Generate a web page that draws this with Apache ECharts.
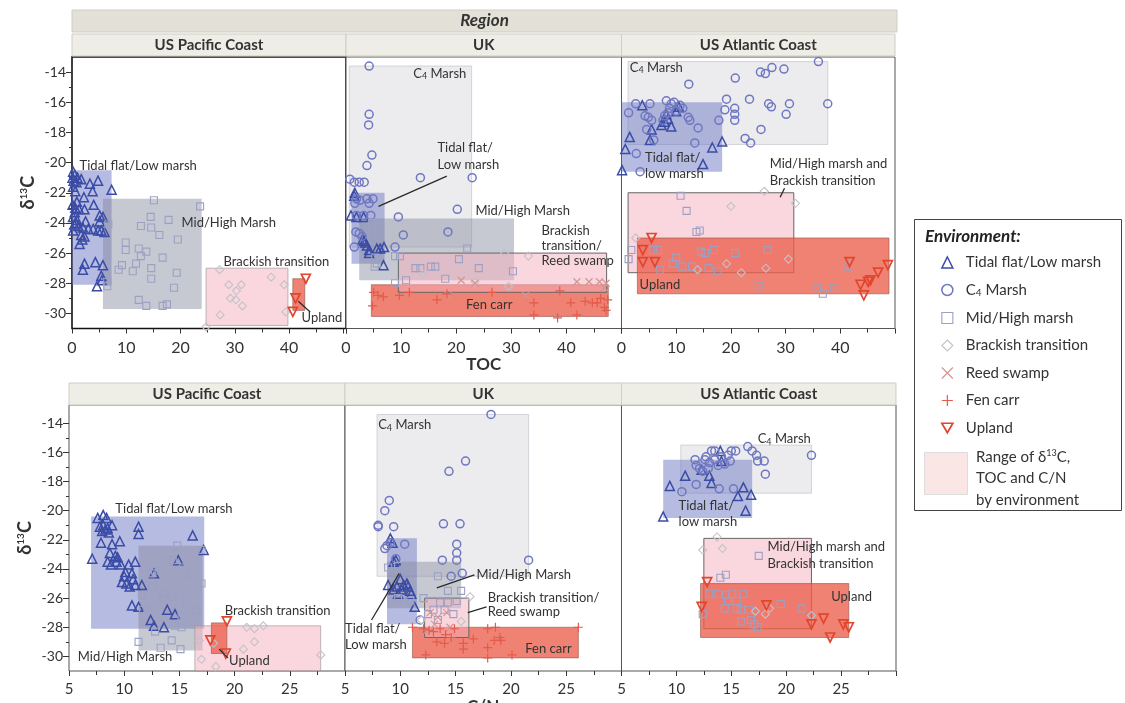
<!DOCTYPE html>
<html>
<head>
<meta charset="utf-8">
<script src="https://cdn.jsdelivr.net/npm/echarts@6/dist/echarts.min.js"></script>
<style>
html, body { margin: 0; padding: 0; background: #fff; }
#chart { width: 1125px; height: 703px; }
</style>
</head>
<body>
<div id="chart"></div>
<script>
// ---------- facets and ticks ----------
const regionNames = ['US Pacific Coast', 'UK', 'US Atlantic Coast'];
const yLabelValues = [-30, -28, -26, -24, -22, -20, -18, -16, -14];
const yMinorValues = [-29, -27, -25, -23, -21, -19, -17, -15];

// ---------- δ13C vs TOC : US Pacific Coast ----------
const tocPacTidal = [[0.2,-20.6],[0.5,-20.8],[0.1,-21.0],[0.3,-21.2],[0.8,-21.3],[1.0,-21.0],[1.7,-21.1],[0.2,-21.6],[0.6,-21.9],[3.3,-21.4],[4.8,-21.2],[7.3,-21.8],[3.8,-21.9],[2.2,-22.3],[0.9,-22.6],[0.1,-22.8],[4.0,-22.8],[0.6,-23.0],[2.3,-23.1],[1.3,-23.1],[0.5,-23.3],[0.2,-23.6],[5.1,-23.5],[5.7,-23.6],[0.9,-23.8],[2.5,-23.9],[5.1,-23.9],[0.7,-24.0],[0.4,-24.1],[1.2,-24.2],[2.0,-24.3],[3.0,-24.4],[3.9,-24.4],[0.2,-24.5],[4.8,-24.5],[5.4,-24.5],[6.0,-24.6],[1.7,-24.8],[2.3,-24.9],[1.9,-25.1],[1.4,-25.4],[2.3,-26.7],[2.0,-27.1],[4.3,-26.6],[5.7,-26.8],[5.4,-27.5],[5.5,-27.8],[4.6,-28.2]];
const tocPacMid = [[15.1,-22.5],[23.6,-22.9],[14.5,-23.6],[6.7,-24.1],[12.7,-24.2],[14.6,-24.3],[17.8,-23.8],[16.1,-24.8],[19.5,-25.1],[9.9,-25.3],[9.9,-25.8],[12.3,-25.7],[13.7,-25.9],[12.7,-26.2],[16.7,-26.3],[9.2,-26.8],[8.6,-27.1],[11.8,-26.7],[11.2,-27.2],[14.6,-27.0],[14.6,-27.7],[19.3,-27.3],[18.8,-28.3],[6.5,-27.9],[6.5,-28.2],[12.3,-29.1],[13.7,-29.5],[16.7,-29.5],[17.5,-29.4]];
const tocPacBrackish = [[27.2,-27.1],[28.9,-28.1],[31.2,-28.1],[30.3,-28.5],[29.2,-29.0],[30.2,-29.1],[31.4,-29.5],[27.3,-30.1],[36.7,-27.6],[39.1,-28.1],[39.4,-29.9],[24.7,-30.9]];
const tocPacUpland = [[43.1,-27.7],[41.2,-29.0],[40.7,-29.9]];

// ---------- δ13C vs TOC : UK ----------
const tocUkC4 = [[4.2,-13.6],[4.2,-16.8],[4.1,-17.5],[4.7,-19.5],[3.8,-20.2],[0.7,-21.1],[1.5,-21.3],[2.4,-21.3],[3.3,-21.3],[13.5,-21.0],[22.9,-21.0],[1.9,-22.4],[3.8,-22.4],[4.9,-22.4],[2.5,-22.5],[4.2,-22.7],[1.6,-22.7],[20.2,-23.1],[9.5,-23.6],[1.9,-23.5],[3.2,-23.5],[4.5,-23.5],[1.8,-24.6],[2.4,-24.7],[2.9,-24.9],[10.4,-24.8],[18.5,-24.6],[1.5,-25.6],[8.9,-25.6]];
const tocUkTidal = [[1.6,-22.0],[1.5,-22.2],[0.9,-23.5],[1.9,-23.6],[3.2,-23.6],[3.0,-25.1],[3.3,-25.2],[3.5,-25.3],[3.8,-25.5],[4.2,-25.8],[5.6,-25.7],[6.2,-25.7],[6.9,-25.6],[4.2,-26.0],[6.8,-26.8]];
const tocUkMid = [[4.7,-24.0],[5.9,-24.2],[4.7,-24.7],[22.0,-25.7],[5.3,-26.3],[5.6,-26.7],[5.2,-26.9],[8.9,-26.2],[9.8,-26.2],[12.6,-27.0],[13.5,-27.0],[15.4,-26.9],[16.2,-26.9],[20.5,-26.4],[24.1,-27.0],[30.3,-27.2],[8.9,-28.0],[10.9,-27.8],[18.0,-27.7]];
const tocUkBrackish = [[28.8,-26.0],[33.1,-26.2],[23.4,-27.9],[29.5,-28.2],[14.0,-27.4]];
const tocUkReed = [[20.9,-27.8],[23.4,-28.0],[18.5,-28.8],[32.6,-28.8],[41.9,-27.9],[44.1,-27.9],[46.0,-27.9],[47.2,-28.0],[46.9,-28.3]];
const tocUkFen = [[5.0,-28.6],[5.8,-28.8],[6.8,-28.9],[4.8,-29.5],[9.7,-28.8],[11.5,-28.6],[16.5,-29.1],[18.3,-28.7],[26.5,-28.6],[34.1,-29.3],[34.1,-30.1],[38.8,-28.5],[38.4,-30.3],[40.8,-29.3],[41.9,-30.1],[43.4,-29.2],[44.7,-29.3],[45.6,-29.3],[46.2,-29.0],[47.5,-29.1],[46.9,-29.6],[47.2,-29.8]];

// ---------- δ13C vs TOC : US Atlantic Coast ----------
const tocAtlC4 = [[36.0,-13.3],[27.5,-13.7],[29.7,-13.8],[25.4,-14.0],[26.3,-14.1],[20.8,-14.4],[12.3,-14.8],[37.7,-16.1],[23.4,-15.8],[19.2,-15.8],[30.7,-16.1],[26.9,-16.1],[27.4,-16.3],[30.1,-16.8],[20.7,-16.4],[20.7,-16.8],[20.7,-17.2],[18.9,-16.5],[17.8,-17.2],[14.0,-17.7],[12.5,-17.2],[12.2,-17.0],[10.7,-16.2],[8.2,-15.9],[9.1,-16.1],[8.8,-16.4],[8.5,-16.7],[7.9,-16.9],[7.6,-17.2],[5.2,-16.1],[2.6,-16.1],[1.3,-16.7],[4.3,-16.9],[4.9,-17.0],[5.5,-17.2],[4.6,-17.8],[5.9,-18.5],[13.4,-18.7],[22.6,-18.4],[23.6,-18.7],[25.5,-17.8],[2.7,-19.4],[3.4,-20.6],[10.0,-16.6],[9.6,-16.0],[11.2,-16.4]];
const tocAtlTidal = [[3.8,-16.2],[5.5,-17.8],[7.3,-17.5],[9.1,-17.6],[5.2,-18.5],[1.5,-18.3],[0.7,-19.1],[0.1,-20.5],[14.9,-20.1],[16.6,-19.0],[18.4,-18.6],[10.0,-16.6],[10.5,-16.3],[8.5,-17.1],[7.9,-17.3],[8.2,-16.8]];
const tocAtlMid = [[10.8,-22.2],[11.9,-23.2],[13.7,-24.6],[14.3,-24.5],[1.8,-25.8],[1.3,-26.4],[5.8,-25.8],[6.7,-25.8],[7.0,-27.1],[9.4,-26.7],[10.0,-26.3],[11.1,-26.9],[12.9,-26.9],[14.5,-25.9],[15.3,-26.0],[16.9,-25.8],[15.9,-27.0],[17.6,-27.2],[20.8,-26.0],[26.7,-25.8],[25.1,-28.2],[35.8,-28.3],[36.8,-28.7],[38.8,-28.3],[41.3,-26.9]];
const tocAtlBrackish = [[26.1,-21.9],[31.8,-22.7],[20.0,-22.9],[2.6,-25.0],[19.2,-26.7],[13.9,-27.1],[21.9,-27.3],[26.4,-27.0],[30.5,-26.4]];
const tocAtlUpland = [[5.5,-25.0],[3.9,-25.8],[3.9,-26.6],[6.1,-26.6],[41.7,-26.6],[48.7,-26.8],[46.9,-27.3],[45.5,-27.8],[45.1,-27.9],[43.7,-28.1],[44.3,-28.8]];

// ---------- δ13C vs C/N : US Pacific Coast ----------
const cnPacTidal = [[7.1,-23.3],[7.6,-20.5],[8.1,-20.3],[8.4,-20.5],[7.8,-21.1],[8.1,-21.0],[8.3,-21.3],[8.0,-21.4],[8.5,-21.2],[7.9,-22.2],[8.9,-21.0],[8.6,-21.5],[8.9,-22.3],[9.6,-22.1],[8.7,-22.9],[9.2,-23.1],[8.5,-23.5],[8.8,-23.7],[9.3,-23.5],[9.4,-23.2],[9.7,-23.7],[10.1,-24.2],[10.4,-23.7],[11.0,-23.5],[10.0,-24.5],[10.7,-24.3],[10.8,-24.7],[9.8,-24.9],[10.2,-25.0],[10.5,-25.2],[11.0,-25.1],[10.7,-26.5],[11.3,-26.6],[11.6,-25.1],[11.3,-21.1],[11.3,-21.6],[12.7,-24.3],[14.9,-23.4],[16.2,-21.7],[17.2,-22.7],[13.9,-26.8],[12.4,-27.5],[12.7,-27.9],[13.6,-28.0],[14.6,-27.1]];
const cnPacMid = [[14.8,-22.4],[14.4,-23.4],[15.3,-23.9],[15.5,-24.3],[12.8,-24.1],[12.6,-25.1],[13.6,-25.7],[13.5,-26.0],[14.4,-25.9],[15.6,-26.3],[16.5,-26.8],[17.0,-25.0],[17.0,-22.7],[11.7,-26.8],[11.6,-25.8],[12.1,-26.8],[12.8,-28.3],[14.6,-27.9],[15.2,-27.2],[15.2,-28.0],[14.3,-28.9],[15.1,-29.5],[13.3,-29.4],[11.3,-29.0],[12.5,-24.3]];
const cnPacBrackish = [[16.8,-28.9],[18.1,-29.1],[18.3,-30.7],[20.8,-29.5],[21.1,-28.0],[21.8,-29.0],[21.8,-28.1],[22.6,-27.9],[27.8,-29.9],[17.0,-30.2]];
const cnPacUpland = [[19.3,-27.6],[17.8,-28.9],[19.2,-29.8]];

// ---------- δ13C vs C/N : UK ----------
const cnUkC4 = [[18.2,-13.4],[15.9,-16.6],[14.4,-17.3],[9.0,-19.3],[8.6,-20.0],[8.0,-21.0],[8.0,-21.1],[9.4,-21.1],[13.9,-20.9],[15.4,-20.9],[15.1,-22.3],[15.1,-22.9],[15.1,-23.4],[13.8,-23.4],[14.6,-24.5],[15.6,-24.3],[21.6,-23.4],[10.4,-22.3],[8.6,-22.6],[8.8,-22.4],[9.1,-22.2],[11.8,-27.5],[9.6,-23.3]];
const cnUkTidal = [[9.1,-21.9],[9.3,-22.2],[9.4,-23.5],[9.6,-23.4],[10.0,-24.7],[9.7,-25.2],[10.1,-25.4],[10.6,-25.0],[10.7,-25.2],[11.0,-25.7],[11.3,-26.6],[9.4,-25.4],[9.8,-25.7],[8.9,-25.1],[10.3,-25.1],[10.9,-25.5]];
const cnUkMid = [[8.9,-23.9],[9.8,-23.8],[10.8,-24.1],[13.4,-24.5],[14.3,-25.5],[15.5,-25.5],[9.8,-26.0],[10.9,-26.2],[12.1,-26.0],[13.6,-26.3],[14.3,-26.3],[15.1,-26.2],[13.0,-26.8],[14.8,-27.1],[12.5,-27.1],[13.4,-27.5],[14.0,-26.8]];
const cnUkBrackish = [[16.3,-25.9],[11.9,-27.5],[15.5,-27.6]];
const cnUkReed = [[12.7,-27.0],[13.4,-27.3],[14.2,-27.0],[13.1,-27.8],[14.5,-28.0],[12.3,-28.3]];
const cnUkFen = [[11.1,-28.0],[12.1,-28.1],[12.6,-28.2],[13.0,-28.3],[13.6,-28.1],[14.1,-28.5],[13.3,-29.0],[14.0,-29.1],[14.6,-28.7],[14.9,-28.1],[15.7,-29.1],[15.7,-29.5],[16.6,-28.8],[17.9,-28.1],[18.6,-28.0],[19.0,-28.7],[19.1,-28.9],[18.5,-28.9],[17.9,-29.4],[17.9,-30.1],[20.1,-29.9],[12.3,-29.9],[26.1,-28.0]];

// ---------- δ13C vs C/N : US Atlantic Coast ----------
const cnAtlC4 = [[22.3,-16.2],[16.5,-15.6],[16.9,-15.9],[17.3,-16.2],[17.4,-16.6],[18.0,-16.6],[18.1,-17.5],[15.0,-15.9],[15.4,-15.9],[13.5,-15.9],[13.2,-15.9],[12.7,-16.3],[12.6,-16.5],[11.7,-16.5],[11.8,-16.9],[12.1,-17.1],[12.4,-17.3],[12.9,-17.1],[13.5,-16.5],[14.1,-16.3],[14.4,-16.8],[14.7,-16.2],[13.8,-16.9],[10.5,-18.7],[11.8,-18.2],[13.9,-18.5],[15.2,-18.5],[14.9,-16.6],[13.0,-16.7]];
const cnAtlTidal = [[9.4,-18.3],[10.8,-17.6],[13.2,-18.1],[13.0,-17.6],[16.1,-18.4],[15.6,-19.0],[16.8,-18.9],[16.3,-20.0],[8.8,-20.4],[14.0,-15.9],[14.1,-16.6],[12.3,-17.2]];
const cnAtlMid = [[17.5,-23.1],[14.0,-24.6],[14.5,-24.4],[13.0,-25.7],[13.8,-25.7],[14.5,-25.8],[15.1,-25.7],[14.7,-26.2],[15.5,-26.2],[16.1,-25.7],[15.5,-26.7],[15.9,-26.8],[14.4,-26.7],[16.6,-26.8],[16.8,-27.5],[17.1,-27.8],[15.9,-27.6],[12.4,-27.1],[19.5,-26.4],[21.4,-26.7],[17.4,-28.0]];
const cnAtlBrackish = [[13.7,-21.8],[14.2,-22.6],[12.4,-22.7],[18.5,-26.7],[18.1,-27.1],[22.3,-27.2],[17.2,-26.9]];
const cnAtlUpland = [[12.8,-24.9],[12.3,-26.6],[18.2,-26.5],[23.4,-27.4],[22.3,-27.8],[25.2,-27.8],[25.7,-28.0],[24.0,-28.7]];

// ---------- environment ranges: [kind, xMin, xMax, yMin, yMax] ----------
const tocPacRanges = [['tidal',0,7.3,-28.1,-20.5],['mid',5.7,23.9,-29.7,-22.4],['brackish',24.7,39.8,-30.8,-27.0],['upland',40.7,42.9,-29.8,-27.7]];
const tocUkRanges = [['c4',0.6,22.8,-25.6,-13.6],['tidal',1.0,7.0,-26.7,-22.0],['mid',2.4,30.5,-27.8,-23.7],['fen',4.6,47.6,-30.2,-28.1],['brackishEdge',9.5,47.3,-28.6,-26.0]];
const tocAtlRanges = [['c4',1.2,37.7,-18.8,-13.3],['tidal',0,18.4,-20.6,-16.0],['brackishEdge',1.2,31.5,-27.3,-22.0],['upland',2.9,48.9,-28.7,-25.0]];
const cnPacRanges = [['tidal',7.0,17.25,-28.1,-20.4],['mid',11.3,17.1,-29.6,-22.4],['brackish',16.4,27.8,-31,-27.9],['upland',17.9,19.3,-29.8,-27.7]];
const cnUkRanges = [['c4',7.9,21.6,-24.5,-13.4],['tidal',8.8,11.5,-27.8,-21.9],['mid',8.8,15.5,-26.7,-23.5],['fen',11.1,26.1,-30.1,-28.0],['brackishEdge',12.2,16.2,-28.7,-26.0]];
const cnAtlRanges = [['c4',10.4,22.3,-18.8,-15.5],['tidal',8.8,16.9,-20.5,-16.5],['brackishEdge',12.5,22.3,-28.1,-21.9],['upland',12.2,25.7,-28.7,-25.0]];

// ---------- panel annotations (data coordinates) ----------
const tocPacNotes = [
  {t: 'Tidal flat/Low marsh', x: 1.4, y: -20.2},
  {t: 'Mid/High Marsh', x: 20.2, y: -24.0},
  {t: 'Brackish transition', x: 27.9, y: -26.6},
  {t: 'Upland', x: 42.3, y: -30.3, line: [41.7, -29.2, 43.9, -29.9]}
];
const tocUkNotes = [
  {t: 'C{sub|4} Marsh', x: 12.2, y: -14.1},
  {t: 'Tidal flat/\nLow marsh', x: 16.6, y: -19.0, lh: 17, line: [18.3, -20.9, 5.9, -22.9]},
  {t: 'Mid/High Marsh', x: 23.5, y: -23.2},
  {t: 'Brackish\ntransition/\nReed swamp', x: 35.5, y: -24.5, lh: 15},
  {t: 'Fen carr', x: 26.0, y: -29.4, align: 'center'}
];
const tocAtlNotes = [
  {t: 'C{sub|4} Marsh', x: 1.5, y: -13.7},
  {t: 'Tidal flat/\nlow marsh', x: 4.3, y: -19.7, lh: 16},
  {t: 'Mid/High marsh and\nBrackish transition', x: 27.1, y: -20.1, lh: 17, line: [29.8, -21.7, 29.0, -22.3]},
  {t: 'Upland', x: 3.3, y: -28.1}
];
const cnPacNotes = [
  {t: 'Tidal flat/Low marsh', x: 9.2, y: -19.9},
  {t: 'Mid/High Marsh', x: 5.8, y: -30.0},
  {t: 'Brackish transition', x: 19.1, y: -26.9},
  {t: 'Upland', x: 19.5, y: -30.3, line: [18.6, -29.5, 19.4, -30.1]}
];
const cnUkNotes = [
  {t: 'C{sub|4} Marsh', x: 8.0, y: -14.1},
  {t: 'Mid/High Marsh', x: 16.9, y: -24.4, line: [16.7, -24.4, 13.3, -25.3]},
  {t: 'Brackish transition/\nReed swamp', x: 17.9, y: -26.0, lh: 14, line: [17.8, -26.6, 16.1, -27.0]},
  {t: 'Tidal flat/\nLow marsh', x: 5.0, y: -28.1, lh: 16, line: [7.4, -27.5, 9.9, -24.3]},
  {t: 'Fen carr', x: 21.3, y: -29.5}
];
const cnAtlNotes = [
  {t: 'C{sub|4} Marsh', x: 17.4, y: -15.1},
  {t: 'Tidal flat/\nlow marsh', x: 10.2, y: -19.7, lh: 16},
  {t: 'Mid/High marsh and\nBrackish transition', x: 18.3, y: -22.5, lh: 17},
  {t: 'Upland', x: 24.1, y: -25.9}
];

// ---------- styling ----------
const FONT = 'Lato, "Open Sans", sans-serif';
const TEXT = '#333';

const envStyle = {
  tidal:    {name: 'Tidal flat/Low marsh', symbol: 'triangle', size: 9, color: '#3b4ca6', width: 1.5},
  c4:       {name: 'C4 Marsh', symbol: 'circle', size: 8, color: '#6f77c2', width: 1.5},
  mid:      {name: 'Mid/High marsh', symbol: 'rect', size: 7, color: '#9ca1c4', width: 1.1},
  brackish: {name: 'Brackish transition', symbol: 'diamond', size: 8, color: '#c4c2c8', width: 1.1},
  reed:     {name: 'Reed swamp', symbol: 'path://M0,0L10,10M10,0L0,10', size: 7, color: '#d69494', width: 1.2},
  fen:      {name: 'Fen carr', symbol: 'path://M5,0L5,10M0,5L10,5', size: 9, color: '#e35b4b', width: 1.2},
  upland:   {name: 'Upland', symbol: 'path://M0,0L10,0L5,8.66Z', size: 9, color: '#e2452d', width: 1.7}
};
const envOrder = ['tidal', 'c4', 'mid', 'brackish', 'reed', 'fen', 'upland'];

const rangeStyle = {
  c4:           {fill: 'rgba(200,200,210,0.35)', stroke: 'rgba(190,190,200,0.8)', lw: 0.8},
  tidal:        {fill: 'rgba(110,120,195,0.5)', stroke: null, lw: 0},
  mid:          {fill: 'rgba(130,135,155,0.45)', stroke: null, lw: 0},
  brackish:     {fill: 'rgba(245,175,190,0.5)', stroke: 'rgba(150,150,150,0.8)', lw: 0.8},
  brackishEdge: {fill: 'rgba(245,175,190,0.5)', stroke: '#666', lw: 1},
  fen:          {fill: 'rgba(235,95,75,0.78)', stroke: 'rgba(150,90,80,0.8)', lw: 0.8},
  upland:       {fill: 'rgba(235,95,75,0.78)', stroke: 'rgba(150,90,80,0.8)', lw: 0.8}
};

// ---------- layout rows ----------
const rows = [
  {top: 57, height: 271.5, yMax: -13, lefts: [72, 346, 621.5], widths: [274, 275.5, 273.5],
   xMin: 0, xMaxs: [50.5, 50, 50], interval: 10, labelMax: 45, labelSize: 16, headerY: 34, nameGap: 28},
  {top: 405, height: 266, yMax: -12.75, lefts: [69, 345, 621.5], widths: [276, 276.5, 274.5],
   xMin: 5, xMaxs: [30, 30, 30], interval: 5, labelMax: 27, labelSize: 15, headerY: 383, nameGap: 26}
];

const panels = [
  {row: 0, col: 0, sets: {tidal: tocPacTidal, mid: tocPacMid, brackish: tocPacBrackish, upland: tocPacUpland}, ranges: tocPacRanges, notes: tocPacNotes},
  {row: 0, col: 1, sets: {tidal: tocUkTidal, c4: tocUkC4, mid: tocUkMid, brackish: tocUkBrackish, reed: tocUkReed, fen: tocUkFen}, ranges: tocUkRanges, notes: tocUkNotes, xName: 'TOC'},
  {row: 0, col: 2, sets: {tidal: tocAtlTidal, c4: tocAtlC4, mid: tocAtlMid, brackish: tocAtlBrackish, upland: tocAtlUpland}, ranges: tocAtlRanges, notes: tocAtlNotes},
  {row: 1, col: 0, sets: {tidal: cnPacTidal, mid: cnPacMid, brackish: cnPacBrackish, upland: cnPacUpland}, ranges: cnPacRanges, notes: cnPacNotes},
  {row: 1, col: 1, sets: {tidal: cnUkTidal, c4: cnUkC4, mid: cnUkMid, brackish: cnUkBrackish, reed: cnUkReed, fen: cnUkFen}, ranges: cnUkRanges, notes: cnUkNotes, xName: 'C/N'},
  {row: 1, col: 2, sets: {tidal: cnAtlTidal, c4: cnAtlC4, mid: cnAtlMid, brackish: cnAtlBrackish, upland: cnAtlUpland}, ranges: cnAtlRanges, notes: cnAtlNotes}
];

const subRich = {
  sub: {fontSize: 9, fontFamily: FONT, fill: TEXT, color: TEXT, padding: [6, 0, 0, 0]},
  sup: {fontSize: 9, fontFamily: FONT, fill: TEXT, color: TEXT, padding: [0, 0, 7, 0]}
};

const grid = [], xAxis = [], yAxis = [], series = [];

panels.forEach((p, i) => {
  const r = rows[p.row];
  const first = i === 0;
  grid.push({
    left: r.lefts[p.col], top: r.top, width: r.widths[p.col], height: r.height,
    outerBoundsMode: 'none', containLabel: false,
    show: true, backgroundColor: '#fff',
    borderColor: first ? '#111' : '#555', borderWidth: first ? 1.6 : 1
  });
  xAxis.push({
    gridIndex: i, type: 'value', min: r.xMin, max: r.xMaxs[p.col], interval: r.interval,
    axisLine: {show: false}, splitLine: {show: false},
    axisTick: {show: true, length: 5, lineStyle: {color: '#333'}},
    minorTick: {show: true, splitNumber: 2, length: 4, lineStyle: {color: '#333'}},
    axisLabel: {fontSize: r.labelSize, color: TEXT, fontFamily: FONT, margin: 11,
      formatter: v => (v > r.labelMax ? '' : String(v))},
    name: p.xName || '', nameLocation: 'middle', nameGap: r.nameGap,
    nameTextStyle: {fontSize: 17, fontWeight: 'bold', color: TEXT, fontFamily: FONT}
  });
  const yIdx = yAxis.length;
  if (p.col === 0) {
    yAxis.push({
      gridIndex: i, type: 'value', min: -31, max: r.yMax, position: 'left',
      axisLine: {show: false}, splitLine: {show: false},
      axisTick: {show: true, length: 6, customValues: yLabelValues, lineStyle: {color: '#333'}},
      axisLabel: {customValues: yLabelValues, fontSize: 14, color: TEXT, fontFamily: FONT, margin: 6},
      name: 'δ{sup|13}C', nameLocation: 'middle', nameRotate: 90, nameGap: 35,
      nameTextStyle: {fontSize: 18, fontWeight: 'bold', color: TEXT, fontFamily: FONT,
        rich: {sup: {fontSize: 10, fontWeight: 'bold', fontFamily: FONT, color: TEXT, padding: [0, 0, 8, 0]}}}
    });
    yAxis.push({
      gridIndex: i, type: 'value', min: -31, max: r.yMax, position: 'left',
      axisLine: {show: false}, splitLine: {show: false}, axisLabel: {show: false},
      axisTick: {show: true, length: 3, customValues: yMinorValues, lineStyle: {color: '#333'}}
    });
  } else {
    yAxis.push({gridIndex: i, type: 'value', min: -31, max: r.yMax, show: false});
  }

  // environment range boxes
  series.push({
    type: 'custom', xAxisIndex: i, yAxisIndex: yIdx, z: 1, silent: true,
    data: p.ranges.map(b => [b[1], b[2], b[3], b[4]]),
    encode: {x: [0, 1], y: [2, 3]},
    renderItem: (params, api) => {
      const kind = p.ranges[params.dataIndex][0];
      const st = rangeStyle[kind];
      const a = api.coord([api.value(0), api.value(3)]);
      const b = api.coord([api.value(1), api.value(2)]);
      return {
        type: 'rect',
        shape: {x: a[0], y: a[1], width: b[0] - a[0], height: b[1] - a[1]},
        style: {fill: st.fill, stroke: st.stroke, lineWidth: st.lw}
      };
    }
  });

  // sample points
  envOrder.forEach(key => {
    const pts = p.sets[key];
    if (!pts) return;
    const s = envStyle[key];
    series.push({
      type: 'scatter', name: s.name, xAxisIndex: i, yAxisIndex: yIdx, z: 3,
      data: pts, symbol: s.symbol, symbolSize: s.size, silent: true,
      itemStyle: {color: 'rgba(0,0,0,0)', borderColor: s.color, borderWidth: s.width, opacity: 1}
    });
  });

  // text labels and leader lines
  series.push({
    type: 'custom', xAxisIndex: i, yAxisIndex: yIdx, z: 5, silent: true,
    data: p.notes.map(n => [n.x, n.y]),
    encode: {x: 0, y: 1},
    renderItem: (params, api) => {
      const n = p.notes[params.dataIndex];
      const pt = api.coord([api.value(0), api.value(1)]);
      const lh = n.lh || 16;
      const children = [];
      if (n.line) {
        const a = api.coord([n.line[0], n.line[1]]);
        const b = api.coord([n.line[2], n.line[3]]);
        children.push({type: 'line', shape: {x1: a[0], y1: a[1], x2: b[0], y2: b[1]},
          style: {stroke: '#2a2a2a', lineWidth: 1.3}});
      }
      children.push({
        type: 'text', x: pt[0], y: pt[1] - lh / 2,
        style: {text: n.t, fill: TEXT, fontSize: 13, fontFamily: FONT, align: n.align || 'left',
          verticalAlign: 'top', lineHeight: lh, rich: subRich}
      });
      return {type: 'group', children};
    }
  });
});

// ---------- headers and legend frame ----------
const graphic = [];
graphic.push({type: 'rect', z: 0, shape: {x: 72, y: 10, width: 825, height: 22},
  style: {fill: '#e3e1d7', stroke: '#cfcdc3', lineWidth: 1}});
graphic.push({type: 'text', z: 1, x: 484.5, y: 21,
  style: {text: 'Region', fill: TEXT, fontSize: 17, fontWeight: 'bold', fontStyle: 'italic', fontFamily: FONT,
    align: 'center', verticalAlign: 'middle'}});
rows.forEach(r => {
  r.lefts.forEach((l, c) => {
    graphic.push({type: 'rect', z: 0, shape: {x: l, y: r.headerY, width: r.widths[c], height: 22},
      style: {fill: '#eeede6', stroke: '#cfcdc4', lineWidth: 1}});
    graphic.push({type: 'text', z: 1, x: l + r.widths[c] / 2, y: r.headerY + 11,
      style: {text: regionNames[c], fill: TEXT, fontSize: 15, fontWeight: 'bold', fontFamily: FONT,
        align: 'center', verticalAlign: 'middle'}});
  });
});
graphic.push({type: 'rect', z: 0, shape: {x: 914.5, y: 219.5, width: 207, height: 291},
  style: {fill: '#fff', stroke: '#444', lineWidth: 1}});
graphic.push({type: 'text', z: 1, x: 925, y: 237,
  style: {text: 'Environment:', fill: '#222', fontSize: 17, fontWeight: 'bold', fontStyle: 'italic', fontFamily: FONT,
    verticalAlign: 'middle'}});
graphic.push({type: 'rect', z: 1, shape: {x: 924.5, y: 452.5, width: 43, height: 42},
  style: {fill: '#fbe6e6', stroke: '#dcdcdc', lineWidth: 1}});
graphic.push({type: 'text', z: 1, x: 976, y: 446,
  style: {text: 'Range of δ{sup|13}C,\nTOC and C/N\nby environment', fill: TEXT, fontSize: 15, fontFamily: FONT,
    lineHeight: 21.5, verticalAlign: 'top',
    rich: {sup: {fontSize: 9, fontFamily: FONT, fill: TEXT, padding: [0, 0, 7, 0]}}}});

const option = {
  animation: false,
  backgroundColor: '#fff',
  grid, xAxis, yAxis, series, graphic,
  legend: {
    orient: 'vertical', left: 936, top: 250, itemGap: 12.5, itemWidth: 11, itemHeight: 11,
    selectedMode: false,
    data: envOrder.map(k => ({
      name: envStyle[k].name, icon: envStyle[k].symbol,
      itemStyle: {color: 'rgba(0,0,0,0)', borderColor: envStyle[k].color, borderWidth: envStyle[k].width}
    })),
    formatter: name => name === 'C4 Marsh' ? 'C{sub|4} Marsh' : name,
    textStyle: {fontSize: 15, color: TEXT, fontFamily: FONT, lineHeight: 15, padding: [0, 0, 0, 8],
      rich: {sub: {fontSize: 10, fontFamily: FONT, color: TEXT, padding: [6, 0, 0, 0]}}}
  }
};

const chart = echarts.init(document.getElementById('chart'), null, {renderer: 'canvas'});
chart.setOption(option);
</script>
</body>
</html>
